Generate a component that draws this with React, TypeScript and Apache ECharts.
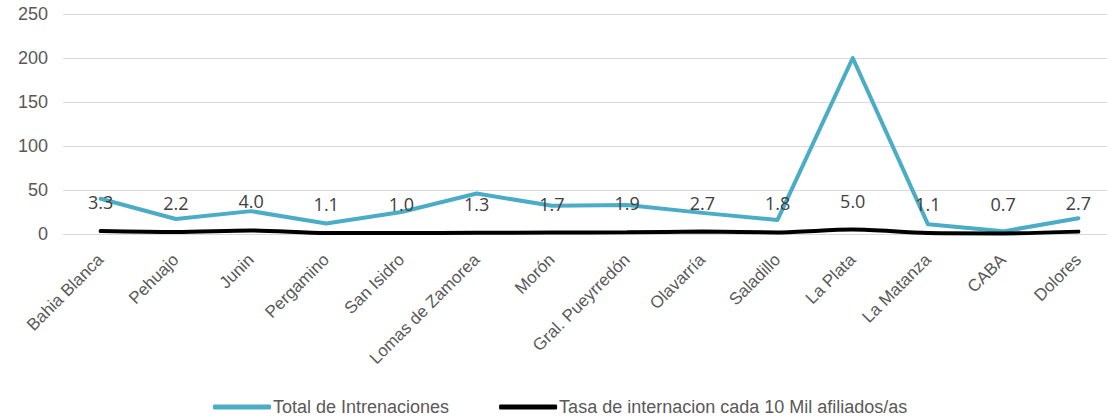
import React, { useEffect, useRef } from "react";
import * as echarts from "echarts";

const categories = [
  "Bahia Blanca", "Pehuajo", "Junin", "Pergamino", "San Isidro", "Lomas de Zamorea",
  "Morón", "Gral. Pueyrredón", "Olavarría", "Saladillo", "La Plata", "La Matanza", "CABA", "Dolores",
];
const totalInternaciones = [40, 17, 26, 12, 25, 46, 32, 33, 24, 16, 200, 11, 3, 18];
const tasaInternacion = [3.3, 2.2, 4.0, 1.1, 1.0, 1.3, 1.7, 1.9, 2.7, 1.8, 5.0, 1.1, 0.7, 2.7];
const yTicks = { min: 0, max: 250, interval: 50 };

export default function App() {
  const ref = useRef<HTMLDivElement>(null);
  useEffect(() => {
    const chart = echarts.init(ref.current!, null, { renderer: "svg" });
    chart.setOption({
      animation: false,
      backgroundColor: "#ffffff",
      grid: {
        left: 63,
        top: 14,
        right: -9,
        height: 220,
        containLabel: false,
        outerBoundsMode: "none",
      },
      legend: {
        top: 393,
        left: 208,
        itemWidth: 58,
        itemHeight: 5,
        itemGap: 50,
        icon: "roundRect",
        textStyle: {
          fontFamily: "Liberation Sans, Arial",
          fontSize: 18,
          lineHeight: 18,
          color: "#595959",
          padding: [0, 0, 0, -3],
        },
        data: ["Total de Intrenaciones", "Tasa de internacion cada 10 Mil afiliados/as"],
      },
      xAxis: {
        type: "category",
        data: categories,
        boundaryGap: true,
        axisLine: { show: true, lineStyle: { color: "#d9d9d9", width: 1 } },
        axisTick: { show: false },
        axisLabel: {
          rotate: 45,
          interval: 0,
          margin: 23,
          fontFamily: "Liberation Sans, Arial",
          fontSize: 17,
          color: "#595959",
        },
      },
      yAxis: {
        type: "value",
        min: yTicks.min,
        max: yTicks.max,
        interval: yTicks.interval,
        axisLine: { show: false },
        axisTick: { show: false },
        splitLine: { lineStyle: { color: "#d9d9d9", width: 1 } },
        axisLabel: {
          margin: 15,
          fontFamily: "Liberation Sans, Arial",
          fontSize: 18,
          color: "#595959",
        },
      },
      series: [
        {
          name: "Total de Intrenaciones",
          type: "line",
          data: totalInternaciones,
          symbol: "none",
          itemStyle: { color: "#4bacc6" },
          lineStyle: { color: "#4bacc6", width: 4, cap: "round", join: "round" },
          z: 2,
        },
        {
          name: "Tasa de internacion cada 10 Mil afiliados/as",
          type: "line",
          data: tasaInternacion,
          symbol: "circle",
          symbolSize: 0,
          showSymbol: true,
          smooth: 0.3,
          itemStyle: { color: "#000000" },
          lineStyle: { color: "#000000", width: 4, cap: "round" },
          label: {
            show: true,
            position: "top",
            distance: 20,
            formatter: (p: any) => Number(p.value).toFixed(1),
            fontFamily: "Open Sans",
            fontSize: 18,
            color: "#404040",
          },
          labelLayout: { hideOverlap: false },
          z: 3,
        },
      ],
    });
    return () => chart.dispose();
  }, []);
  return <div ref={ref} style={{ width: 1107, height: 420, position: "absolute", left: 0, top: 0 }} />;
}
